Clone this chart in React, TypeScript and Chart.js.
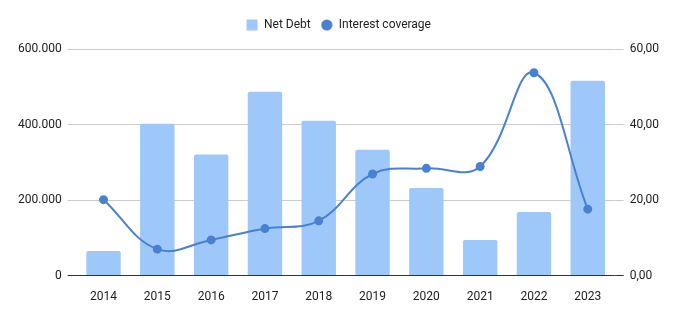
import React, { useEffect, useRef } from "react";
import { Chart, registerables } from "chart.js";

Chart.register(...registerables);

const years = ["2014", "2015", "2016", "2017", "2018", "2019", "2020", "2021", "2022", "2023"];
const netDebt = [65400, 401800, 320500, 486600, 409800, 333000, 232000, 94500, 168700, 515700];
const interestCoverage = [20.1, 7.0, 9.45, 12.45, 14.5, 26.9, 28.4, 28.9, 53.7, 17.6];

const BAR_COLOR = "#9fc8fa";
const LINE_COLOR = "#4a80d0";

const fmtLeft = (v: number) => {
  const s = Math.round(v).toString();
  return s.replace(/\B(?=(\d{3})+(?!\d))/g, ".");
};
const fmtRight = (v: number) => v.toFixed(2).replace(".", ",");

function makeIcon(kind: "rect" | "circle", color: string) {
  const c = document.createElement("canvas");
  c.width = 12;
  c.height = 12;
  const g = c.getContext("2d")!;
  g.fillStyle = color;
  if (kind === "rect") {
    g.fillRect(0.5, 0.5, 11, 11);
  } else {
    g.beginPath();
    g.arc(6, 6, 5.6, 0, Math.PI * 2);
    g.fill();
  }
  return c;
}

export default function App() {
  const ref = useRef<HTMLCanvasElement | null>(null);
  useEffect(() => {
    document.body.style.margin = "0";
    const font = { family: "Roboto", size: 12 };
    const gridColor = (ctx: any) => (ctx.tick && ctx.tick.value === 0 ? "#333333" : "#cccccc");
    const icons = [makeIcon("rect", BAR_COLOR), makeIcon("circle", LINE_COLOR)];
    const legendSpacer = {
      id: "legendSpacer",
      beforeInit(chart: any) {
        const orig = chart.legend.fit;
        chart.legend.fit = function () {
          orig.call(this);
          this.height += 8;
        };
      },
    };
    const chart = new Chart(ref.current!, {
      type: "bar",
      data: {
        labels: years,
        datasets: [
          {
            type: "bar",
            label: "Net Debt",
            data: netDebt,
            backgroundColor: BAR_COLOR,
            borderRadius: 2,
            barPercentage: 0.64,
            categoryPercentage: 1,
            yAxisID: "y",
            order: 1,
          } as any,
          {
            type: "line",
            label: "Interest coverage",
            data: interestCoverage,
            borderColor: LINE_COLOR,
            backgroundColor: LINE_COLOR,
            borderWidth: 2,
            pointRadius: 3.5,
            pointHoverRadius: 3.5,
            tension: 0.4,
            yAxisID: "y1",
            order: 0,
          } as any,
        ],
      },
      plugins: [legendSpacer],
      options: {
        animation: false,
        responsive: false,
        maintainAspectRatio: false,
        layout: { padding: { left: 12, right: 10, top: 9, bottom: 2 } },
        plugins: {
          tooltip: { enabled: false },
          legend: {
            position: "top",
            labels: {
              usePointStyle: true,
              boxWidth: 12,
              boxHeight: 12,
              padding: 10,
              color: "#222222",
              font,
              sort: (a: any, b: any) => a.datasetIndex - b.datasetIndex,
              generateLabels: (chart: any) => {
                const items = (Chart.defaults.plugins.legend.labels as any).generateLabels(chart);
                return items.map((it: any) => ({ ...it, pointStyle: icons[it.datasetIndex], rotation: 0 }));
              },
            },
          },
        },
        scales: {
          x: {
            offset: true,
            grid: { display: false },
            border: { display: false },
            ticks: { color: "#222222", font, padding: 6 },
          },
          y: {
            position: "left",
            min: 0,
            max: 600000,
            ticks: { stepSize: 200000, color: "#222222", font, padding: 6, callback: (v: any) => fmtLeft(Number(v)) },
            grid: { color: gridColor, tickLength: 9, tickColor: gridColor, lineWidth: 1 },
            border: { display: false },
          },
          y1: {
            position: "right",
            min: 0,
            max: 60,
            ticks: { stepSize: 20, color: "#222222", font, padding: 6, callback: (v: any) => fmtRight(Number(v)) },
            grid: { drawOnChartArea: false, color: gridColor, tickLength: 9, tickColor: gridColor },
            border: { display: false },
          },
        },
      } as any,
    });
    return () => chart.destroy();
  }, []);
  return (
    <div style={{ width: 675, height: 312 }}>
      <canvas ref={ref} width={675} height={312} style={{ display: "block" }} />
    </div>
  );
}
